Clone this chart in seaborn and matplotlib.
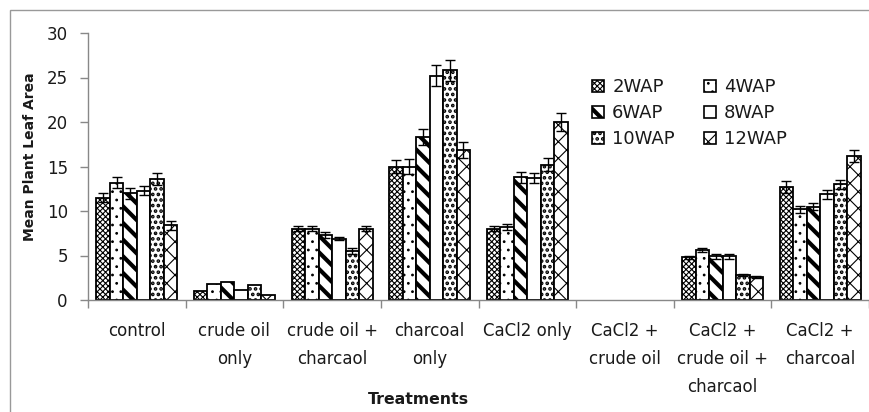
import matplotlib
matplotlib.use("Agg")
import matplotlib.pyplot as plt
import numpy as np
import pandas as pd
import seaborn as sns
from matplotlib.patches import Rectangle, Patch

treatments = ["control", "crude oil\nonly", "crude oil +\ncharcaol", "charcoal\nonly",
              "CaCl2 only", "CaCl2 +\ncrude oil", "CaCl2 +\ncrude oil +\ncharcaol",
              "CaCl2 +\ncharcoal"]
weeks = ["2WAP", "4WAP", "6WAP", "8WAP", "10WAP", "12WAP"]

wap2 = [11.5, 1.0, 8.0, 15.0, 8.0, 0.0, 4.8, 12.7]
wap4 = [13.2, 1.8, 8.0, 15.0, 8.2, 0.0, 5.6, 10.2]
wap6 = [12.0, 2.0, 7.3, 18.3, 13.8, 0.0, 4.9, 10.5]
wap8 = [12.3, 1.1, 6.9, 25.2, 13.7, 0.0, 4.9, 11.9]
wap10 = [13.6, 1.7, 5.5, 25.8, 15.2, 0.0, 2.8, 13.0]
wap12 = [8.4, 0.6, 8.0, 16.8, 20.0, 0.0, 2.6, 16.2]

err2 = [0.5, 0.0, 0.3, 0.7, 0.3, 0.0, 0.2, 0.7]
err4 = [0.6, 0.0, 0.3, 0.8, 0.3, 0.0, 0.2, 0.4]
err6 = [0.6, 0.0, 0.3, 0.9, 0.6, 0.0, 0.3, 0.4]
err8 = [0.5, 0.0, 0.2, 1.2, 0.6, 0.0, 0.3, 0.5]
err10 = [0.7, 0.0, 0.3, 1.2, 0.7, 0.0, 0.1, 0.5]
err12 = [0.5, 0.0, 0.3, 0.9, 1.0, 0.0, 0.1, 0.7]

series = [wap2, wap4, wap6, wap8, wap10, wap12]
errors = [err2, err4, err6, err8, err10, err12]
hatches = ["xxxxxx", "..", "\\\\", "", "...", "xx"]
hatch_lw = [0.8, 0.8, 3.0, 0.8, 1.8, 0.8]

rows = []
for w, vals in zip(weeks, series):
    for t, v in zip(treatments, vals):
        rows.append({"Treatment": t, "Week": w, "Area": v})
df = pd.DataFrame(rows)

sns.set_style("white")
plt.rcParams["font.family"] = ["DejaVu Sans"]
plt.rcParams["hatch.color"] = "black"
TXT = "#1a1a1a"

W, H = 869, 412
fig = plt.figure(figsize=(W / 100, H / 100), dpi=100)
ax = fig.add_axes([88 / W, 1 - 300 / H, 1 - 88 / W, (300 - 33) / H])

ax = sns.barplot(data=df, x="Treatment", y="Area", hue="Week", order=treatments,
                 hue_order=weeks, palette=["white"] * 6, errorbar=None, width=0.83,
                 edgecolor="black", linewidth=1.3, legend=False, ax=ax, saturation=1)

bar_containers = list(ax.containers)
for i, cont in enumerate(bar_containers):
    xs, ys, es = [], [], []
    for bar, v, e in zip(cont.patches, series[i], errors[i]):
        plt.rcParams["hatch.linewidth"] = hatch_lw[i]
        bar.set_hatch(hatches[i])
        if hasattr(bar, "set_hatch_linewidth"):
            bar.set_hatch_linewidth(hatch_lw[i])
        if bar.get_height() == 0:
            bar.set_linewidth(0)
            bar.set_hatch("")
        if e > 0:
            xs.append(bar.get_x() + bar.get_width() / 2)
            ys.append(bar.get_height())
            es.append(e)
    ax.errorbar(xs, ys, yerr=es, fmt="none", ecolor="black", elinewidth=1.0,
                capsize=3.5, capthick=1.0, zorder=5)

ax.set_ylim(0, 30)
ax.set_yticks(range(0, 31, 5))
ax.set_xlim(-0.5, 7.43)
ax.set_xlabel("")
ax.set_ylabel("")
ax.set_xticks(range(len(treatments)))
ax.set_xticklabels(treatments, linespacing=1.7)
ax.set_xticks(np.arange(-0.5, 8.0, 1.0), minor=True)
ax.tick_params(axis="x", which="major", length=0, pad=16, labelsize=12, colors=TXT)
ax.tick_params(axis="x", which="minor", length=6, width=1, direction="out", color="#888888", bottom=True)
ax.tick_params(axis="y", length=6, width=1, direction="out", pad=8.5, labelsize=12,
               color="#888888", labelcolor=TXT, left=True)
for s in ["top", "right"]:
    ax.spines[s].set_visible(False)
for s in ["left", "bottom"]:
    ax.spines[s].set_color("#888888")
    ax.spines[s].set_linewidth(1)

handles = [Patch(facecolor="white", edgecolor="black", hatch=hatches[i], linewidth=1.2,
                 label=w) for i, w in enumerate(weeks)]
order = [0, 2, 4, 1, 3, 5]
leg = fig.legend(handles=[handles[k] for k in order], ncol=2, frameon=False, loc="upper left",
                 bbox_to_anchor=(592 / W, 1 - 78 / H), fontsize=13, handlelength=0.67,
                 handleheight=0.67, handletextpad=0.45, columnspacing=1.6, labelspacing=0.45,
                 borderpad=0, borderaxespad=0, labelcolor=TXT)
for k, p in zip(order, leg.get_patches()):
    if hasattr(p, "set_hatch_linewidth"):
        p.set_hatch_linewidth(hatch_lw[k])

fig.text(30 / W, 1 - 157 / H, "Mean Plant Leaf Area", rotation=90, ha="center",
         va="center", fontsize=10, fontweight="bold", color=TXT)
fig.text(418 / W, 1 - 400 / H, "Treatments", ha="center", va="center",
         fontsize=11.3, fontweight="bold", color=TXT)

frame = Rectangle((10 / W, -0.1), 1.2, 1 - 10 / H + 0.1, transform=fig.transFigure,
                  fill=False, edgecolor="#999999", linewidth=1.0)
fig.patches.append(frame)

fig.savefig("out.png", dpi=100)
